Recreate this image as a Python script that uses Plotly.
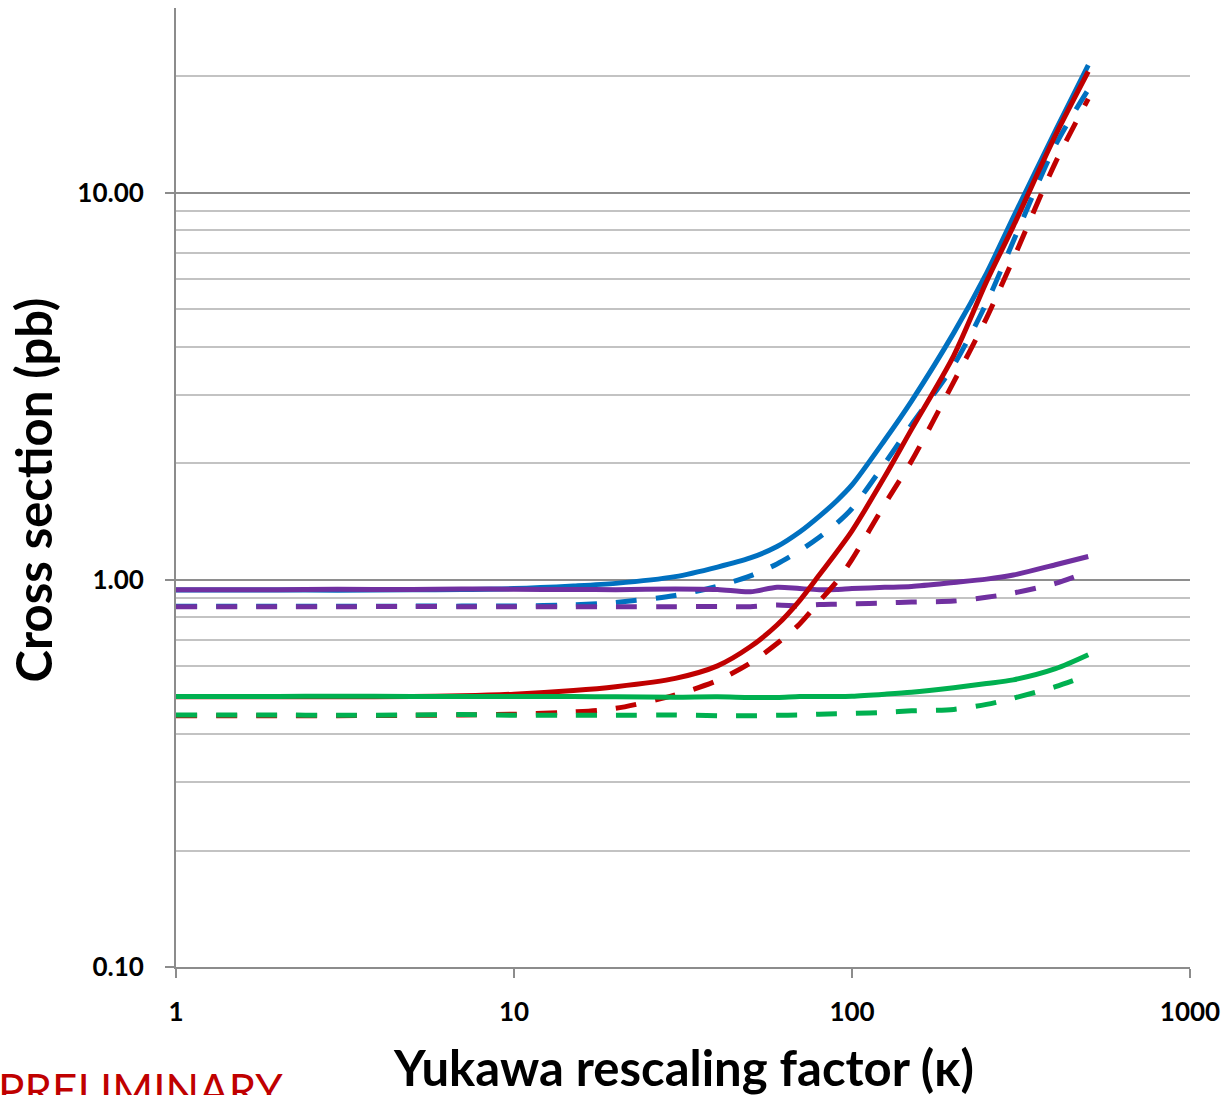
import math
import plotly.graph_objects as go

# Yukawa rescaling factor (kappa) sample points
kappa = [1, 2, 3, 5, 7, 10, 15, 20, 30, 40, 50, 60, 70, 80, 90, 100,
         125, 150, 200, 250, 300, 400, 500]

# Cross sections in pb (solid = first scheme, dashed = second scheme)
blue_solid = [0.942, 0.942, 0.941, 0.943, 0.945, 0.950, 0.965, 0.980, 1.02, 1.08, 1.14,
              1.22, 1.33, 1.46, 1.60, 1.76, 2.30, 2.90, 4.35, 6.20, 8.65, 14.5, 21.4]
blue_dash = [0.855, 0.855, 0.855, 0.856, 0.856, 0.857, 0.862, 0.875, 0.912, 0.963, 1.025,
             1.10, 1.19, 1.29, 1.40, 1.53, 2.00, 2.52, 3.59, 5.20, 7.50, 13.3, 18.5]
purple_solid = [0.944, 0.944, 0.946, 0.945, 0.948, 0.946, 0.945, 0.944, 0.948, 0.945, 0.932,
                0.958, 0.950, 0.944, 0.945, 0.950, 0.957, 0.962, 0.985, 1.005, 1.03, 1.095, 1.15]
purple_dash = [0.853, 0.853, 0.853, 0.854, 0.853, 0.853, 0.853, 0.853, 0.853, 0.854, 0.853,
               0.862, 0.857, 0.864, 0.866, 0.868, 0.872, 0.877, 0.882, 0.902, 0.925, 0.98, 1.05]
red_solid = [0.499, 0.499, 0.499, 0.500, 0.502, 0.507, 0.518, 0.530, 0.557, 0.600, 0.672,
             0.765, 0.885, 1.03, 1.18, 1.34, 1.85, 2.45, 3.80, 5.90, 8.20, 14.1, 20.6]
red_dash = [0.446, 0.446, 0.446, 0.447, 0.448, 0.450, 0.456, 0.466, 0.505, 0.550, 0.610,
            0.685, 0.770, 0.880, 0.990, 1.13, 1.57, 2.03, 3.25, 4.75, 6.75, 12.0, 17.5]
green_solid = [0.500, 0.500, 0.501, 0.500, 0.500, 0.500, 0.500, 0.499, 0.498, 0.499, 0.497,
               0.497, 0.500, 0.500, 0.500, 0.501, 0.507, 0.513, 0.527, 0.540, 0.552, 0.590, 0.641]
green_dash = [0.448, 0.448, 0.447, 0.448, 0.449, 0.447, 0.447, 0.447, 0.448, 0.446, 0.446,
              0.447, 0.448, 0.450, 0.451, 0.452, 0.455, 0.459, 0.463, 0.477, 0.495, 0.530, 0.568]

BLUE, PURPLE, RED, GREEN = "#0070C0", "#7030A0", "#C00000", "#00B050"
DASH = "21px,19px"

series = [
    (blue_solid, BLUE, "solid"),
    (blue_dash, BLUE, DASH),
    (purple_solid, PURPLE, "solid"),
    (purple_dash, PURPLE, DASH),
    (red_solid, RED, "solid"),
    (red_dash, RED, DASH),
    (green_solid, GREEN, "solid"),
    (green_dash, GREEN, DASH),
]

fig = go.Figure()
for vals, color, dash in series:
    fig.add_trace(go.Scatter(
        x=kappa, y=vals, mode="lines",
        line=dict(color=color, width=5, dash=dash, shape="spline", smoothing=0.8),
        showlegend=False, hoverinfo="skip",
    ))

tick_font = dict(family="Lato", size=26, color="#000000", weight="bold")
title_font = dict(family="Lato", size=49, color="#000000", weight="bold")
AXIS_GREY = "#8c8c8c"

fig.update_layout(
    width=1223, height=1095,
    margin=dict(l=176, r=33, t=8, b=128),
    paper_bgcolor="white", plot_bgcolor="white",
    xaxis=dict(
        type="log", range=[0, 3], automargin=False,
        tickvals=[1, 10, 100, 1000], ticktext=["1", "10", "100", "1000"],
        ticks="outside", ticklen=9, tickwidth=2, tickcolor=AXIS_GREY,
        showline=True, linecolor=AXIS_GREY, linewidth=2,
        showgrid=False, zeroline=False,
        tickfont=tick_font, ticklabelstandoff=12,
    ),
    yaxis=dict(
        type="log", range=[-1, math.log10(30) + 0.0008], automargin=False,
        dtick=1, tickformat=".2f",
        ticks="outside", ticklen=9, tickwidth=2, tickcolor=AXIS_GREY,
        showline=True, linecolor=AXIS_GREY, linewidth=2,
        showgrid=True, gridcolor="#8e8e8e", gridwidth=1.5,
        minor=dict(dtick="D1", showgrid=True, gridcolor="#c3c3c3", gridwidth=1.5, ticks=""),
        zeroline=False,
        tickfont=tick_font, ticklabelstandoff=16,
    ),
    annotations=[
        dict(text="Yukawa rescaling factor (κ)", xref="paper", yref="paper",
             x=0.5, y=-0.104, xanchor="center", yanchor="middle",
             showarrow=False, font=title_font),
        dict(text="Cross section (pb)", xref="paper", yref="paper",
             x=-0.141, y=0.497, xanchor="center", yanchor="middle", textangle=-90,
             showarrow=False, font=title_font),
        dict(text="PRELIMINARY", xref="paper", yref="paper",
             x=-0.1775, y=-0.098, xanchor="left", yanchor="top",
             showarrow=False, font=dict(family="Lato", size=44, color="#C00000")),
    ],
)

fig.write_html("out.html")
